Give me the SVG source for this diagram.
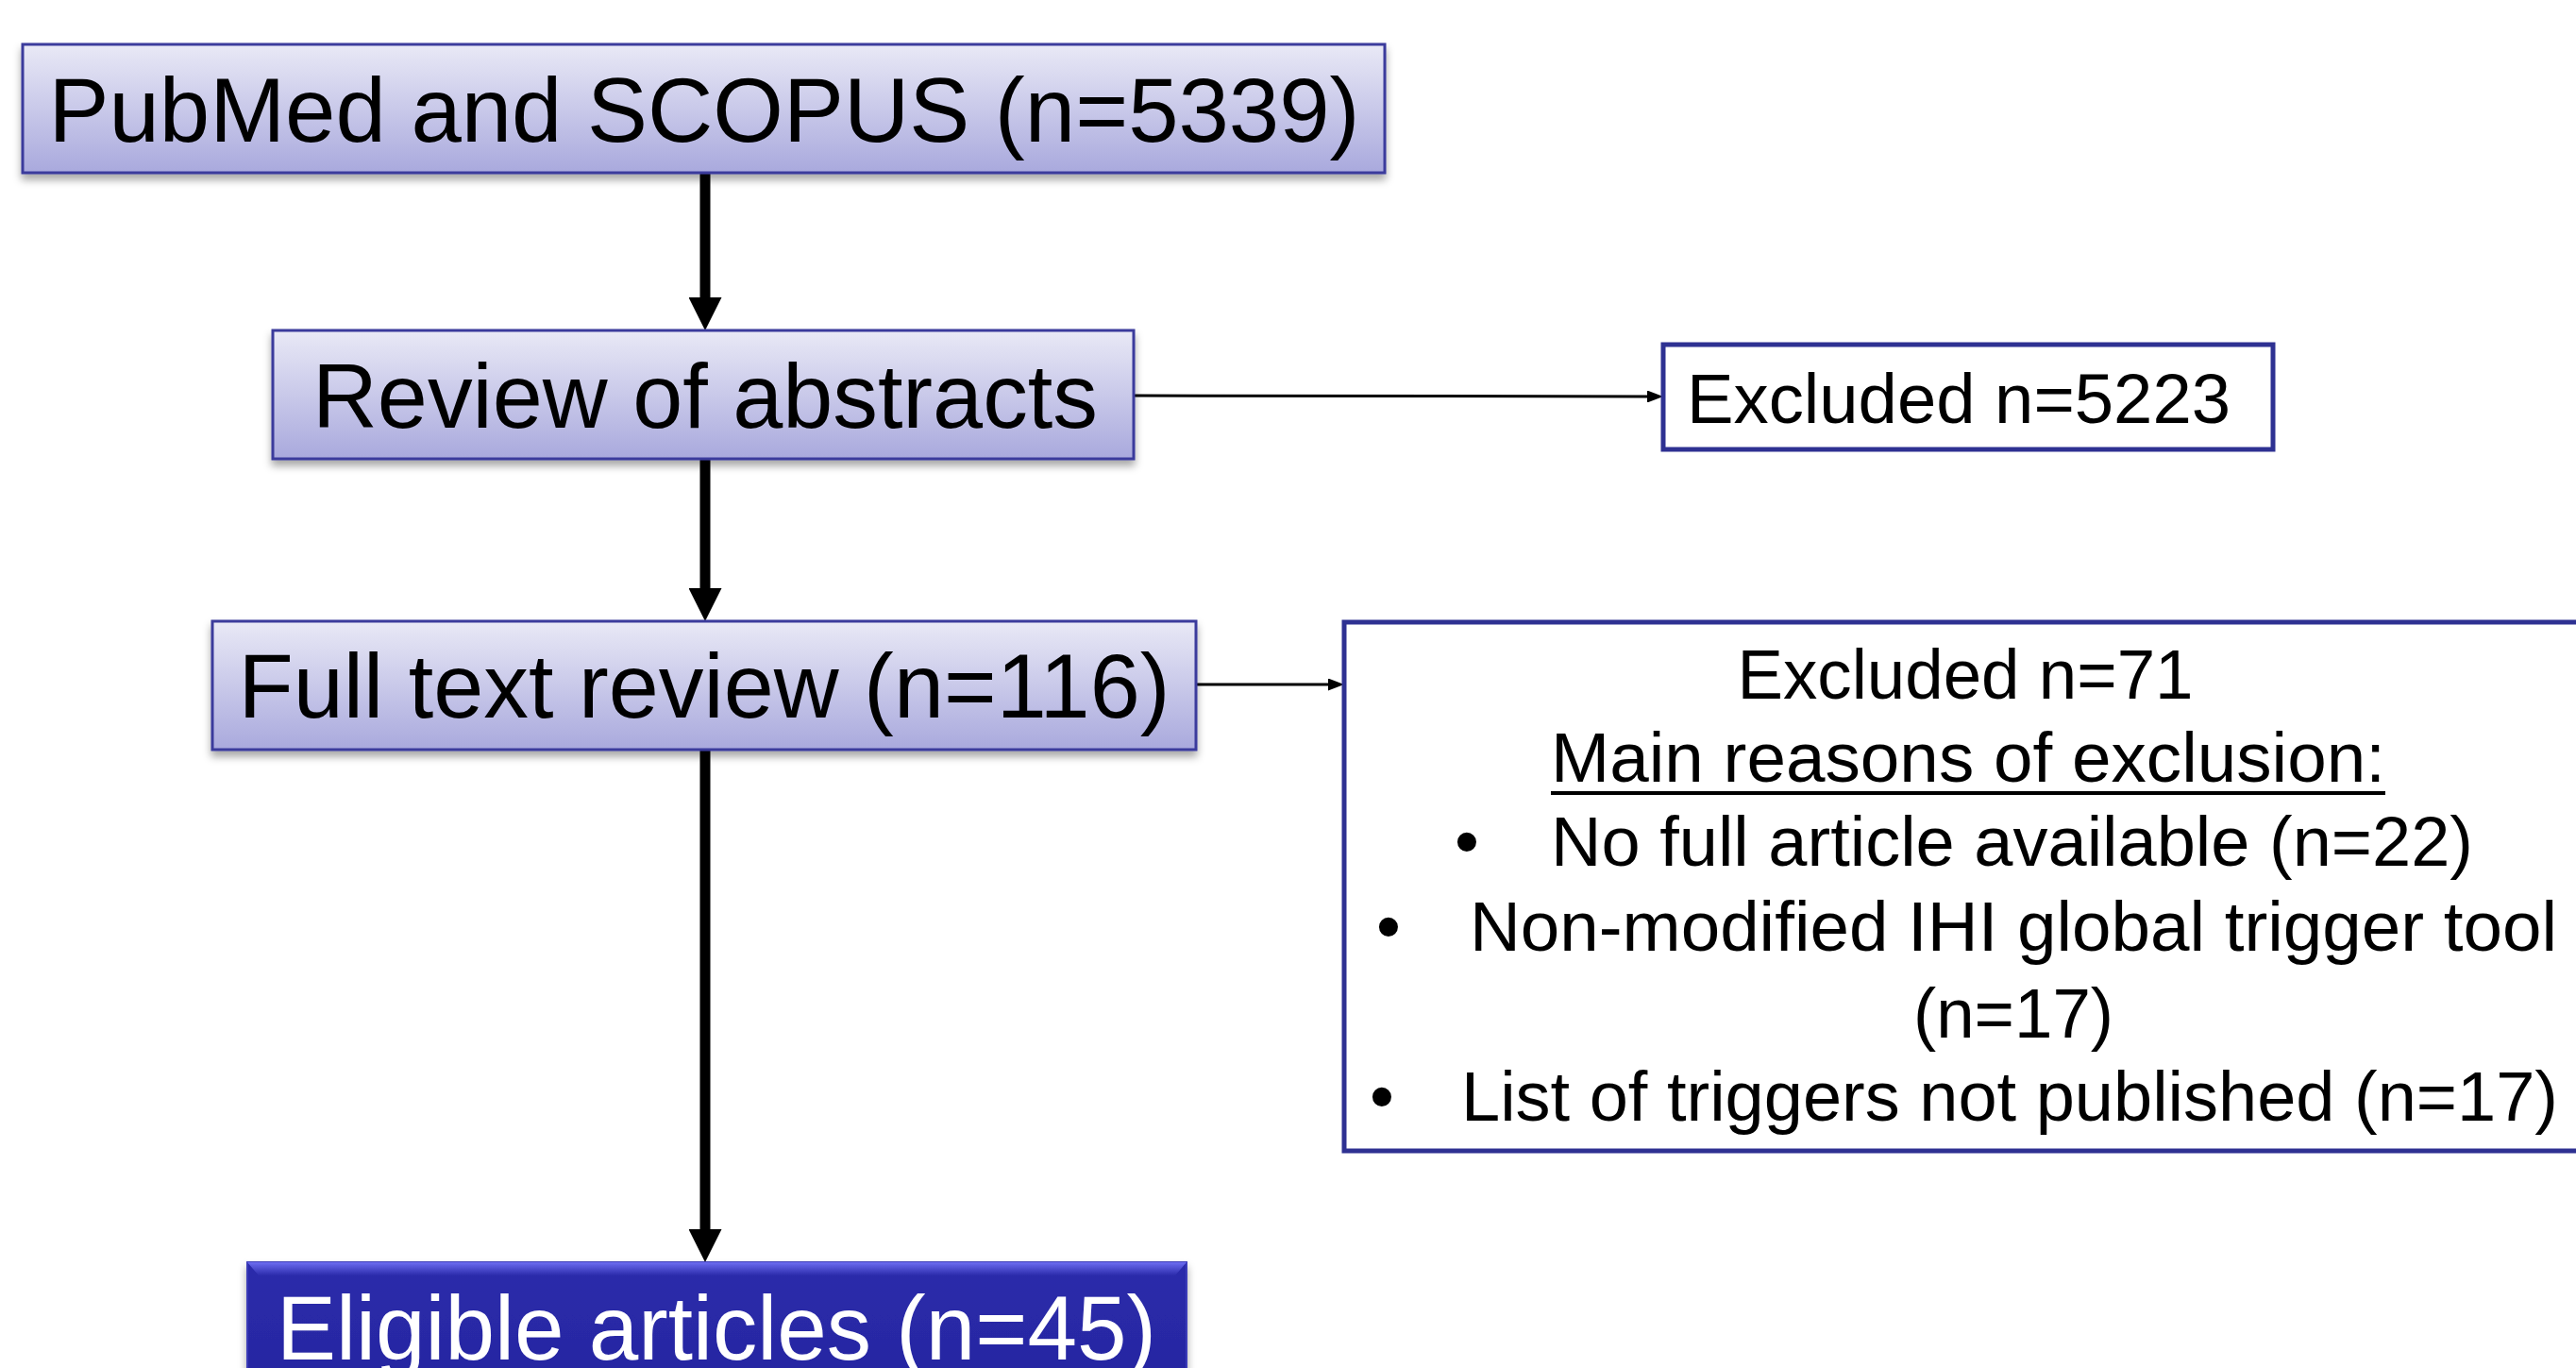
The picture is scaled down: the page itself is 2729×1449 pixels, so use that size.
<svg xmlns="http://www.w3.org/2000/svg" width="2729" height="1449" viewBox="0 0 2729 1449">
<style>
.lbl{font-family:"Liberation Sans",Arial,sans-serif;fill:#000}
.big{font-size:97px}
.mid{font-size:74px}
.lite{fill:url(#lg);stroke:#3b3b9c;stroke-width:3}
.wbox{fill:#fff;stroke:#2e3192;stroke-width:5}
.thick{stroke:#000;stroke-width:11;fill:none}
.thin{stroke:#000;stroke-width:3;fill:none}
</style>
<defs>
<linearGradient id="lg" x1="0" y1="0" x2="0" y2="1">
<stop offset="0" stop-color="#e9e9f6"/>
<stop offset="1" stop-color="#a9a9dd"/>
</linearGradient>
<linearGradient id="dg" x1="0" y1="0" x2="0" y2="1">
<stop offset="0" stop-color="#2b2bab"/>
<stop offset="1" stop-color="#2626a0"/>
</linearGradient>
<linearGradient id="bev" x1="0" y1="0" x2="0" y2="1">
<stop offset="0" stop-color="#6c6cf0"/>
<stop offset="1" stop-color="#2b2bab"/>
</linearGradient>
<filter id="sh" x="-5%" y="-20%" width="110%" height="150%">
<feDropShadow dx="0" dy="6" stdDeviation="4" flood-color="#000" flood-opacity="0.35"/>
</filter>
<marker id="ah" markerUnits="userSpaceOnUse" markerWidth="35" markerHeight="35" refX="0" refY="17.5" orient="auto">
<path d="M0,0 L35,17.5 L0,35 z" fill="#000"/>
</marker>
<marker id="as" markerUnits="userSpaceOnUse" markerWidth="17" markerHeight="13" refX="0" refY="6.5" orient="auto">
<path d="M0,0 L17,6.5 L0,13 z" fill="#000"/>
</marker>
</defs>

<g id="connectors">
<line class="thick" x1="747" y1="183" x2="747" y2="315" marker-end="url(#ah)"/>
<line class="thick" x1="747" y1="486" x2="747" y2="623" marker-end="url(#ah)"/>
<line class="thick" x1="747" y1="794" x2="747" y2="1302" marker-end="url(#ah)"/>
<line class="thin" x1="1202" y1="419" x2="1745" y2="420" marker-end="url(#as)"/>
<line class="thin" x1="1267" y1="725" x2="1407" y2="725" marker-end="url(#as)"/>
</g>

<g id="n1">
<rect class="lite" x="24" y="47" width="1443" height="136" filter="url(#sh)"/>
<text class="lbl big" x="746" y="150" text-anchor="middle" textLength="1389" lengthAdjust="spacingAndGlyphs">PubMed and SCOPUS (n=5339)</text>
</g>

<g id="n2">
<rect class="lite" x="289" y="350" width="912" height="136" filter="url(#sh)"/>
<text class="lbl big" x="747" y="453" text-anchor="middle" textLength="832" lengthAdjust="spacingAndGlyphs">Review of abstracts</text>
</g>

<g id="n3">
<rect class="lite" x="225" y="658" width="1042" height="136" filter="url(#sh)"/>
<text class="lbl big" x="746" y="760" text-anchor="middle" textLength="987" lengthAdjust="spacingAndGlyphs">Full text review (n=116)</text>
</g>

<g id="n4">
<rect class="wbox" x="1762" y="365" width="646" height="111"/>
<text class="lbl mid" x="2075" y="448" text-anchor="middle" textLength="576" lengthAdjust="spacingAndGlyphs">Excluded n=5223</text>
</g>

<g id="n5">
<rect class="wbox" x="1424" y="659" width="1330" height="560"/>
<text class="lbl mid" x="2082" y="740" text-anchor="middle" textLength="483" lengthAdjust="spacingAndGlyphs">Excluded n=71</text>
<text class="lbl mid" x="2085" y="828" text-anchor="middle" textLength="884" lengthAdjust="spacingAndGlyphs">Main reasons of exclusion:</text>
<line x1="1643" y1="840" x2="2527" y2="840" stroke="#000" stroke-width="4"/>
<text class="lbl mid" x="1554" y="917" text-anchor="middle">•</text>
<text class="lbl mid" x="1643" y="917" textLength="977" lengthAdjust="spacingAndGlyphs">No full article available (n=22)</text>
<text class="lbl mid" x="1471" y="1007" text-anchor="middle">•</text>
<text class="lbl mid" x="1557" y="1007" textLength="1152" lengthAdjust="spacingAndGlyphs">Non-modified IHI global trigger tool</text>
<text class="lbl mid" x="2133" y="1099" text-anchor="middle" textLength="212" lengthAdjust="spacingAndGlyphs">(n=17)</text>
<text class="lbl mid" x="1464" y="1187" text-anchor="middle">•</text>
<text class="lbl mid" x="1548" y="1187" textLength="1162" lengthAdjust="spacingAndGlyphs">List of triggers not published (n=17)</text>
</g>

<g id="n6">
<rect x="262" y="1337" width="995" height="140" fill="url(#dg)" stroke="#3a3ab8" stroke-width="2" filter="url(#sh)"/>
<polygon points="262,1337 1257,1337 1245,1351 274,1351" fill="url(#bev)"/>
<text class="lbl big" x="759" y="1440" text-anchor="middle" textLength="932" lengthAdjust="spacingAndGlyphs" style="fill:#fff">Eligible articles (n=45)</text>
</g>
</svg>
